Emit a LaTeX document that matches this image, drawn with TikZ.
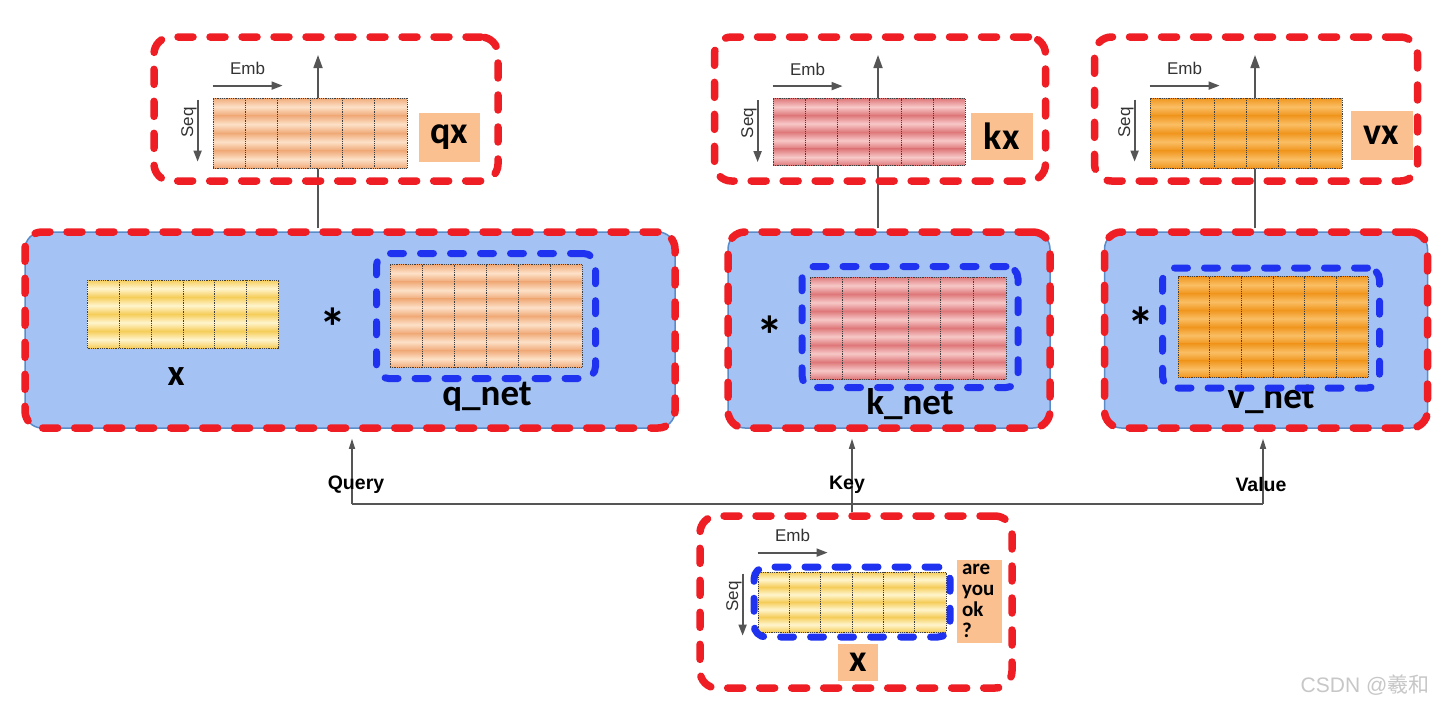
\documentclass[tikz,border=0pt]{standalone}
\usepackage{fontspec}
\setmainfont{Liberation Sans}
\newfontfamily\calib{Carlito}
\newfontfamily\cjk{Noto Sans CJK SC}
\usetikzlibrary{arrows.meta, calc, positioning, backgrounds}

\definecolor{dashred}{RGB}{238,30,36}
\definecolor{dashblue}{RGB}{30,50,240}
\definecolor{netfill}{RGB}{164,194,244}
\definecolor{netline}{RGB}{90,140,200}
\definecolor{tagfill}{RGB}{250,192,144}
\definecolor{arrgray}{RGB}{85,85,85}
\definecolor{qA}{RGB}{240,170,120}
\definecolor{qB}{RGB}{253,225,200}
\definecolor{kA}{RGB}{222,120,122}
\definecolor{kB}{RGB}{248,200,200}
\definecolor{vA}{RGB}{240,150,30}
\definecolor{vB}{RGB}{250,190,100}
\definecolor{yA}{RGB}{245,205,90}
\definecolor{yB}{RGB}{255,245,205}

\tikzset{
  redbox/.style={draw=dashred, line width=7.5pt, dash pattern=on 15pt off 17pt, line cap=round, rounded corners=17pt, inner sep=0pt},
  netbox/.style={redbox, preaction={draw=netline, fill=netfill, solid, line width=1.5pt}},
  bluebox/.style={draw=dashblue, line width=7pt, dash pattern=on 13pt off 17pt, line cap=round, rounded corners=12pt, inner sep=0pt},
  tag/.style={fill=tagfill, inner sep=0pt, font=\calib\bfseries\fontsize{38}{38}\selectfont},
  big/.style={inner sep=0pt, font=\calib\bfseries\fontsize{37}{37}\selectfont},
  times/.style={inner sep=0pt, font=\calib\bfseries\fontsize{54}{54}\selectfont},
  small/.style={inner sep=0pt, text=black!80, font=\fontsize{17}{17}\selectfont},
  route/.style={inner sep=0pt, font=\bfseries\fontsize{19.5}{20}\selectfont},
  flow/.style={draw=arrgray, line width=1.7pt, -{Triangle[length=13pt, width=9pt]}},
  wire/.style={draw=arrgray, line width=1.3pt, -{Triangle[length=10pt, width=6pt]}},
  axis/.style={draw=arrgray, line width=1.8pt, -{Triangle[length=11pt, width=8pt]}},
  cells/.style n args={5}{minimum width=#1, minimum height=#2, inner sep=0pt,
    draw=black!75, densely dotted, line width=0.8pt,
    path picture={
      \coordinate (nw) at (path picture bounding box.north west);
      \coordinate (se) at (path picture bounding box.south east);
      \foreach \r in {1,...,#3}{
        \shade[top color=#4, bottom color=#4, middle color=#5]
          ($(nw)!{(\r-1)/#3}!(nw|-se)$) rectangle ($(nw-|se)!{\r/#3}!(se)$);
        \draw[black!75, densely dotted, line width=0.8pt]
          ($(nw)!{\r/#3}!(nw|-se)$) -- ($(nw-|se)!{\r/#3}!(se)$);
      }
      \foreach \c in {1,...,5}
        \draw[black!75, densely dotted, line width=0.8pt]
          ($(nw)!{\c/6}!(nw-|se)$) -- ($(nw|-se)!{\c/6}!(se)$);
    }},
}

\begin{document}
\begin{tikzpicture}[x=1pt, y=-1pt]
    \useasboundingbox (0,0) rectangle (1447,710);

    \node[redbox, minimum width=344pt, minimum height=144pt] (qx) at (326,109) {};
    \node[redbox, minimum width=331pt, minimum height=144pt] (kx) at (880,109) {};
    \node[redbox, minimum width=323pt, minimum height=144pt] (vx) at (1256,109) {};
    \node[cells={194pt}{70pt}{4}{qA}{qB}] (qxm) at (310,133) {};
    \node[cells={192pt}{67pt}{4}{kA}{kB}] (kxm) at (869,132) {};
    \node[cells={192pt}{70pt}{4}{vA}{vB}] (vxm) at (1246,133) {};
    \node[tag, minimum width=61pt, minimum height=49pt, right=11pt of qxm, yshift=-4pt] (qxt) {qx};
    \node[tag, minimum width=62pt, minimum height=47pt, right=5pt of kxm, yshift=-4pt] (kxt) {kx};
    \node[tag, minimum width=62pt, minimum height=49pt, right=8pt of vxm, yshift=-2pt] (vxt) {vx};

    \node[netbox, minimum width=650pt, minimum height=196pt] (qnet) at (350,330) {};
    \node[cells={191pt}{68pt}{4}{yA}{yB}] (xqm) at (183,314) {};
    \node[big] (xql) at (176,377) {x};
    \node[times] (qstar) at (333,327) {*};
    \node[big] (qnl) at (487,397) {q\_net};
    \node[cells={192pt}{103pt}{6}{qA}{qB}] (qnm) at (486,316) {};
    \node[bluebox, minimum width=219pt, minimum height=125pt] (qnb) at (qnm) {};

    \node[netbox, minimum width=322pt, minimum height=196pt] (knet) at (889,330) {};
    \node[times] (kstar) at (770,335) {*};
    \node[big] (knl) at (910,404) {k\_net};
    \node[cells={196pt}{102pt}{6}{kA}{kB}] (knm) at (908,328) {};
    \node[bluebox, minimum width=216pt, minimum height=121pt] (knb) at (910,327) {};

    \node[netbox, minimum width=323pt, minimum height=196pt] (vnet) at (1266,330) {};
    \node[times] (vstar) at (1141,326) {*};
    \node[big] (vnl) at (1271,399) {v\_net};
    \node[cells={190pt}{101pt}{6}{vA}{vB}] (vnm) at (1273,327) {};
    \node[bluebox, minimum width=217pt, minimum height=120pt] (vnb) at (1271,328) {};

    \node[redbox, minimum width=312pt, minimum height=172pt] (xin) at (856,602) {};
    \node[cells={188pt}{60pt}{4}{yA}{yB}] (xm) at (852,602) {};
    \node[bluebox, minimum width=196pt, minimum height=70pt] (xb) at (xm) {};
    \node[tag, minimum width=45pt, minimum height=83pt, text width=34pt, align=left,
          font=\calib\bfseries\fontsize{21}{21}\selectfont] (ayo) at (979,601) {are\\you\\ok\\?};
    \node[tag, minimum width=40pt, minimum height=37pt] (xt) at (858,662) {x};

    \foreach \m/\d in {qxm/12,kxm/12,vxm/12,xm/19}{
        \draw[axis] ([yshift=\d pt]\m.north west) -- ++(70,0) node[small, midway, above=10pt] {Emb};
        \draw[axis] ([xshift=-15pt, yshift=-2pt]\m.north west) -- ++(0,62) node[small, midway, rotate=90, above=8pt] {Seq};
    }

    \coordinate (qtip) at (318,55);
    \coordinate (ktip) at (878,55);
    \coordinate (vtip) at (1255,55);
    \coordinate (qin) at (352,504);
    \coordinate (kin) at (852,504);
    \coordinate (vin) at (1263,504);

    \node[route] (query) at (356,485) {Query};
    \node[route] (key) at (847,485) {Key};
    \node[route] (value) at (1261,485) {Value};
    \node[text=black!22, inner sep=0pt, font=\fontsize{21}{21}\selectfont] (mark) at (1365,685) {CSDN @{\cjk 羲和}};

    \begin{scope}[on background layer]
        \fill[white] (0,0) rectangle (1447,710);
        \draw[flow] (qnet.north -| qtip) -- (qtip);
        \draw[flow] (knet.north -| ktip) -- (ktip);
        \draw[flow] (vnet.north -| vtip) -- (vtip);
        \draw[arrgray, line width=1.3pt] (qin) -- (vin);
        \draw[wire, shorten >=7pt] (qin) -- (qin |- qnet.south);
        \draw[wire, shorten >=7pt] (kin |- xin.north) -- (kin |- knet.south);
        \draw[wire, shorten >=7pt] (vin) -- (vin |- vnet.south);
    \end{scope}
\end{tikzpicture}
\end{document}
